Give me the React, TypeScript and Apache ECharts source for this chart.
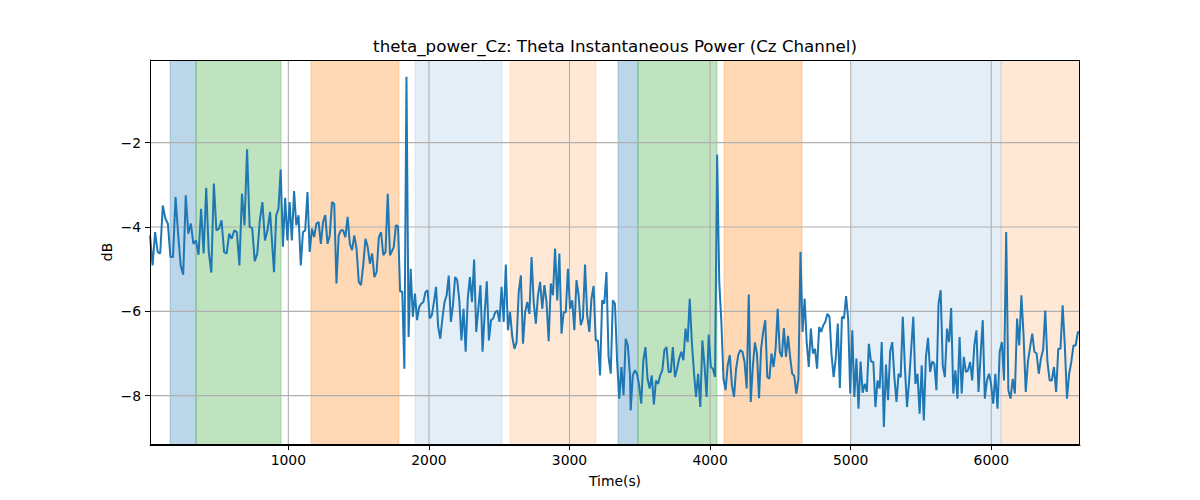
import React, { useEffect, useRef } from 'react';
import * as echarts from 'echarts';

const TITLE = 'theta_power_Cz: Theta Instantaneous Power (Cz Channel)';
const X_LABEL = 'Time(s)';
const Y_LABEL = 'dB';
const X_MIN = 16;
const X_MAX = 6631;
const Y_MIN = -9.17;
const Y_MAX = -0.04;
const X_TICKS = [1000, 2000, 3000, 4000, 5000, 6000];
const Y_TICKS = [-8, -6, -4, -2];

// segments of the power trace: [start time, end time] and values (dB)
const segStart = [16, 898, 1735, 2593, 3435, 4289, 5161, 5998];
const segEnd = [870, 1723, 2577, 3430, 4275, 5144, 5984, 6631];
const seg1 = [-4.20,-4.91,-4.12,-4.59,-4.63,-3.49,-3.80,-3.92,-4.71,-4.71,-3.29,-4.16,-4.91,-5.13,-3.25,-4.16,-3.92,-4.40,-4.32,-4.66,-3.57,-4.63,-3.07,-4.59,-5.08,-2.97,-4.08,-4.04,-3.84,-4.59,-4.63,-4.16,-4.28,-4.08,-4.12,-4.91,-3.21,-3.96,-2.16,-4.00,-4.02,-4.81,-4.63,-3.84,-3.41,-4.32,-4.08,-3.64];
const seg2 = [-5.07,-3.72,-3.57,-2.64,-4.47,-3.31,-4.32,-3.41,-4.32,-3.15,-3.96,-3.72,-4.91,-4.12,-4.08,-3.17,-4.59,-4.04,-4.24,-3.92,-3.88,-4.40,-3.88,-3.72,-4.40,-4.20,-3.41,-3.45,-5.34,-4.20,-4.08,-4.08,-4.24,-3.76,-4.40,-4.55,-4.20,-4.51,-5.30,-5.38,-4.91,-4.28,-4.47,-4.87,-4.63,-5.19,-5.07,-4.24,-4.12,-4.67,-4.59,-3.21,-4.67];
const seg3 = [-4.59,-4.47,-3.96,-3.98,-5.53,-5.53,-7.36,-0.44,-6.61,-4.99,-6.13,-5.58,-6.21,-5.90,-5.82,-5.78,-5.54,-5.50,-6.17,-6.09,-5.78,-5.42,-6.37,-6.65,-6.17,-5.78,-5.62,-5.15,-6.25,-5.86,-5.19,-5.26,-5.74,-6.69,-5.94,-6.96,-5.70,-5.19,-5.78,-4.77,-6.49,-5.94,-5.38,-6.96,-6.06,-5.29,-6.69,-6.21,-6.17,-6.02,-5.98,-6.25,-5.42,-6.25,-4.89,-6.45,-6.02];
const seg4 = [-6.61,-6.89,-6.73,-5.54,-5.15,-6.77,-6.02,-5.78,-6.06,-4.71,-5.78,-6.29,-5.62,-5.30,-5.94,-5.38,-5.78,-6.71,-5.34,-5.62,-4.51,-5.74,-4.63,-6.53,-6.02,-6.02,-4.99,-5.94,-5.74,-6.45,-5.26,-5.62,-6.33,-6.17,-4.89,-6.09,-6.49,-5.70,-5.40,-6.69,-6.69,-7.52,-5.74,-5.82,-5.07,-7.08,-7.48,-5.74,-5.82,-7.20,-8.07,-7.32,-7.99,-6.65,-6.81,-7.52];
const seg5 = [-8.35,-7.52,-7.40,-7.48,-7.75,-8.19,-7.16,-6.85,-7.60,-7.83,-7.52,-8.21,-7.64,-7.72,-7.52,-7.40,-6.92,-6.85,-7.44,-7.44,-6.85,-7.56,-7.36,-7.12,-6.96,-7.16,-6.41,-6.73,-5.70,-6.73,-7.44,-8.03,-7.48,-8.27,-6.69,-7.28,-8.03,-6.55,-7.32,-7.36,-7.56,-2.28,-5.30,-6.25,-7.60,-7.87,-7.28,-7.04,-7.75,-8.03,-7.36,-7.04,-6.92,-6.96,-7.20,-7.83,-5.60];
const seg6 = [-8.15,-7.32,-6.74,-7.00,-8.06,-6.89,-6.49,-6.21,-7.56,-7.60,-7.00,-7.32,-6.89,-5.94,-6.96,-7.08,-6.40,-7.08,-6.58,-7.08,-7.48,-7.53,-7.95,-7.60,-4.59,-6.49,-5.70,-6.73,-7.32,-6.41,-7.00,-6.89,-7.36,-6.37,-6.49,-6.33,-6.25,-6.06,-6.13,-7.04,-7.56,-7.12,-6.29,-7.82,-6.13,-6.17,-5.64,-6.17,-7.95,-6.45,-8.03,-7.12,-8.31,-7.19,-7.93,-7.72,-7.91,-6.77,-7.19];
const seg7 = [-7.20,-8.27,-7.64,-7.83,-6.73,-8.74,-7.26,-8.11,-6.95,-6.73,-7.56,-8.15,-7.48,-7.56,-6.13,-7.32,-8.27,-7.66,-6.89,-6.13,-7.72,-7.48,-8.43,-7.28,-8.59,-7.08,-6.63,-7.44,-7.19,-7.24,-7.87,-5.82,-5.50,-7.28,-7.56,-6.41,-6.73,-5.92,-7.95,-7.40,-8.07,-6.61,-7.95,-7.08,-7.44,-7.40,-7.20,-7.64,-6.81,-6.45,-7.91,-7.04,-6.21,-8.07,-7.64,-7.48];
const seg8 = [-7.72,-8.19,-7.48,-8.31,-6.96,-6.73,-7.64,-4.12,-7.87,-8.07,-7.60,-7.95,-6.17,-6.81,-5.62,-6.57,-7.91,-7.20,-6.85,-6.53,-6.96,-7.00,-7.48,-7.12,-6.92,-5.98,-7.20,-7.64,-7.64,-7.32,-7.91,-6.89,-6.89,-5.86,-6.81,-8.07,-7.48,-7.20,-6.81,-6.81,-6.49,-6.51];
const segValues = [seg1, seg2, seg3, seg4, seg5, seg6, seg7, seg8];

// shaded intervals
const spanStart = [159, 344, 1161, 1901, 2577, 3345, 3487, 4099, 5010, 6070];
const spanEnd = [344, 948, 1787, 2520, 3188, 3487, 4049, 4654, 6070, 6632];
const spanColor = ['#1f77b4', '#2ca02c', '#ff7f0e', '#1f77b4', '#ff7f0e', '#1f77b4', '#2ca02c', '#ff7f0e', '#1f77b4', '#ff7f0e'];
const spanAlpha = [0.3, 0.3, 0.3, 0.12, 0.17, 0.3, 0.3, 0.3, 0.12, 0.17];

const FONT = 'DejaVu Sans';

function rgba(hex: string, a: number) {
  const r = parseInt(hex.slice(1, 3), 16);
  const g = parseInt(hex.slice(3, 5), 16);
  const b = parseInt(hex.slice(5, 7), 16);
  return `rgba(${r},${g},${b},${a})`;
}

function buildLine() {
  const pts: number[][] = [];
  segValues.forEach((vals, s) => {
    const n = vals.length;
    const st = (segEnd[s] - segStart[s]) / (n - 1);
    vals.forEach((v, i) => pts.push([segStart[s] + i * st, v]));
  });
  return pts;
}

const fmtNum = (v: number) => String(v).replace('-', '\u2212');

export default function App() {
  const ref = useRef<HTMLDivElement>(null);
  useEffect(() => {
    if (!ref.current) return;
    const chart = echarts.init(ref.current, undefined, { renderer: 'svg' });
    const spanData = spanStart.map((s, i) => [s, spanEnd[i], i]);
    const gridData = [...X_TICKS.map((v) => [0, v]), ...Y_TICKS.map((v) => [1, v])];
    chart.setOption({
      animation: false,
      backgroundColor: '#ffffff',
      grid: { left: 150, right: 120, top: 60, bottom: 55, containLabel: false },
      xAxis: {
        type: 'value',
        min: X_MIN,
        max: X_MAX,
        axisLine: { show: true, lineStyle: { color: '#000', width: 1 } },
        axisTick: { show: true, customValues: X_TICKS, length: 5, lineStyle: { color: '#000', width: 1 } },
        axisLabel: { customValues: X_TICKS, color: '#000', fontFamily: FONT, fontSize: 13.9, margin: 8, formatter: (v: number) => fmtNum(v) },
        splitLine: { show: false },
      },
      yAxis: {
        type: 'value',
        min: Y_MIN,
        max: Y_MAX,
        axisLine: { show: true, lineStyle: { color: '#000', width: 1 } },
        axisTick: { show: true, customValues: Y_TICKS, length: 5, lineStyle: { color: '#000', width: 1 } },
        axisLabel: { customValues: Y_TICKS, color: '#000', fontFamily: FONT, fontSize: 13.9, margin: 9, formatter: (v: number) => fmtNum(v) },
        splitLine: { show: false },
      },
      graphic: [
        { type: 'text', left: undefined, x: 615, y: 46, z: 100, style: { text: TITLE, fill: '#000', font: `16.7px "${FONT}"`, textAlign: 'center', textVerticalAlign: 'middle' } },
        { type: 'text', x: 615, y: 481, z: 100, style: { text: X_LABEL, fill: '#000', font: `13.9px "${FONT}"`, textAlign: 'center', textVerticalAlign: 'middle' } },
        { type: 'text', x: 107, y: 252, rotation: Math.PI / 2, z: 100, style: { text: Y_LABEL, fill: '#000', font: `13.9px "${FONT}"`, textAlign: 'center', textVerticalAlign: 'middle' } },
        { type: 'rect', z: 100, silent: true, shape: { x: 150.5, y: 60.5, width: 929, height: 384 }, style: { fill: 'none', stroke: '#000', lineWidth: 1 } },
      ],
      series: [
        {
          type: 'custom',
          silent: true,
          clip: true,
          data: spanData,
          encode: { x: [0, 1] },
          renderItem: (_p: any, api: any) => {
            const i = api.value(2);
            const p1 = api.coord([api.value(0), Y_MAX]);
            const p2 = api.coord([api.value(1), Y_MIN]);
            const c = rgba(spanColor[i], spanAlpha[i]);
            return {
              type: 'rect',
              shape: { x: p1[0], y: p1[1], width: p2[0] - p1[0], height: p2[1] - p1[1] },
              style: { fill: c, stroke: c, lineWidth: 1 },
            };
          },
        },
        {
          type: 'custom',
          silent: true,
          data: gridData,
          encode: { x: 1 },
          renderItem: (_p: any, api: any) => {
            const isX = api.value(0) === 0;
            const v = api.value(1);
            const a = isX ? api.coord([v, Y_MIN]) : api.coord([X_MIN, v]);
            const b = isX ? api.coord([v, Y_MAX]) : api.coord([X_MAX, v]);
            return {
              type: 'line',
              shape: { x1: a[0], y1: a[1], x2: b[0], y2: b[1] },
              style: { stroke: '#b0b0b0', lineWidth: 1.1 },
            };
          },
        },
        {
          type: 'line',
          z: 3,
          data: buildLine(),
          showSymbol: false,
          symbol: 'none',
          lineStyle: { color: '#1f77b4', width: 2 },
        },
      ],
    });
    return () => chart.dispose();
  }, []);
  return <div ref={ref} style={{ position: 'absolute', left: 0, top: 0, width: 1200, height: 500 }} />;
}
